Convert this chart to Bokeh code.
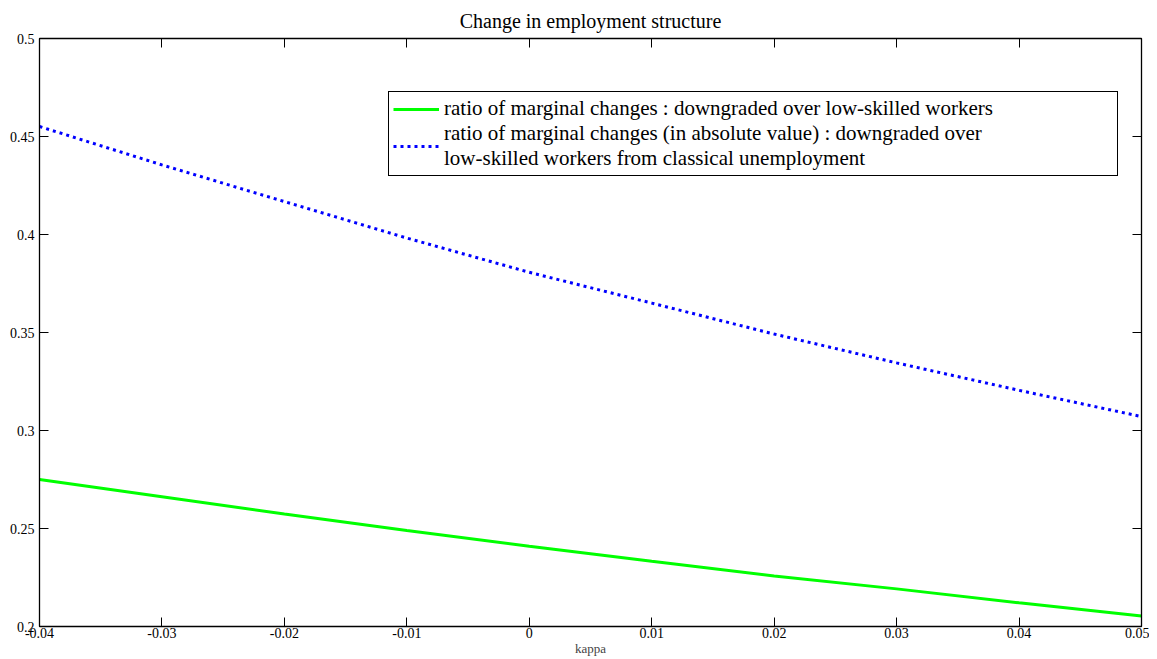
from bokeh.plotting import figure
from bokeh.models import LinearAxis, FixedTicker, Legend, LegendItem, Range1d
from bokeh.embed import file_html
from bokeh.resources import INLINE

# ---- data ----
kappa = [-0.04, -0.03, -0.02, -0.01, 0.0, 0.01, 0.02, 0.03, 0.04, 0.05]
ratio_downgraded_low = [0.2750, 0.2662, 0.2574, 0.2490, 0.2409, 0.2333, 0.2258, 0.2192, 0.2121, 0.2054]
ratio_abs_classical = [0.4551, 0.4355, 0.4168, 0.3982, 0.3807, 0.3650, 0.3492, 0.3345, 0.3205, 0.3071]

x_ticks = [-0.04, -0.03, -0.02, -0.01, 0.0, 0.01, 0.02, 0.03, 0.04, 0.05]
x_tick_labels = ["-0.04", "-0.03", "-0.02", "-0.01", "0", "0.01", "0.02", "0.03", "0.04", "0.05"]
y_ticks = [0.2, 0.25, 0.3, 0.35, 0.4, 0.45, 0.5]
y_tick_labels = ["0.2", "0.25", "0.3", "0.35", "0.4", "0.45", "0.5"]

title_text = "Change in employment structure"
x_label = "kappa"
legend_labels = [
    "ratio of marginal changes : downgraded over low-skilled workers",
    "ratio of marginal changes (in absolute value) : downgraded over\nlow-skilled workers from classical unemployment",
]

SERIF = "Liberation Serif"

p = figure(
    frame_width=1102, frame_height=588,
    x_range=Range1d(-0.04, 0.05), y_range=Range1d(0.2, 0.5),
    output_backend="svg", toolbar_location=None,
    title=title_text,
    min_border_left=39, min_border_right=8, min_border_top=38, min_border_bottom=30,
    background_fill_color="white", border_fill_color="white",
)
p.outline_line_color = "black"
p.outline_line_width = 1
p.grid.visible = False

p.title.align = "center"
p.title.text_font = SERIF
p.title.text_font_size = "20px"
p.title.text_font_style = "normal"
p.title.text_color = "black"
p.title.standoff = 13

def style_axis(ax, ticks, labels, show_labels=True):
    ax.ticker = FixedTicker(ticks=ticks)
    ax.major_tick_in = 9
    ax.major_tick_out = 0
    ax.minor_tick_in = 0
    ax.minor_tick_out = 0
    ax.major_tick_line_color = "black"
    ax.axis_line_color = "black"
    ax.axis_line_width = 1.3
    ax.major_label_text_font = SERIF
    ax.major_label_text_color = "black"
    ax.major_label_text_font_size = "14px"
    if show_labels:
        ax.major_label_overrides = dict(zip(ticks, labels))
    else:
        ax.major_label_overrides = {t: "" for t in ticks}
        ax.major_label_standoff = 0

xa = p.xaxis[0]
style_axis(xa, x_ticks, x_tick_labels)
xa.major_label_standoff = 1
xa.axis_label = x_label
xa.axis_label_text_font = SERIF
xa.axis_label_text_font_style = "normal"
xa.axis_label_text_font_size = "13px"
xa.axis_label_standoff = 0

ya = p.yaxis[0]
style_axis(ya, y_ticks, y_tick_labels)
ya.major_label_standoff = 5

top = LinearAxis()
style_axis(top, x_ticks, x_tick_labels, show_labels=False)
p.add_layout(top, "above")
right = LinearAxis()
style_axis(right, y_ticks, y_tick_labels, show_labels=False)
p.add_layout(right, "right")

r1 = p.line(kappa, ratio_downgraded_low, line_color="#00ff00", line_width=3)
r2 = p.line(kappa, ratio_abs_classical, line_color="#0000ff", line_width=3, line_dash="3 4")

legend = Legend(
    items=[LegendItem(label=legend_labels[0], renderers=[r1]),
           LegendItem(label=legend_labels[1], renderers=[r2])],
    location=(349, 450),
    border_line_color="black", border_line_width=1.5, border_line_alpha=1,
    background_fill_color="white", background_fill_alpha=1,
    padding=4, spacing=0, margin=0,
    glyph_width=46, glyph_height=20, label_standoff=5,
    label_text_font=SERIF, label_text_font_size="21px", label_width=669,
    label_text_color="black",
)
p.add_layout(legend)

open("out.html", "w").write(file_html(p, INLINE))
